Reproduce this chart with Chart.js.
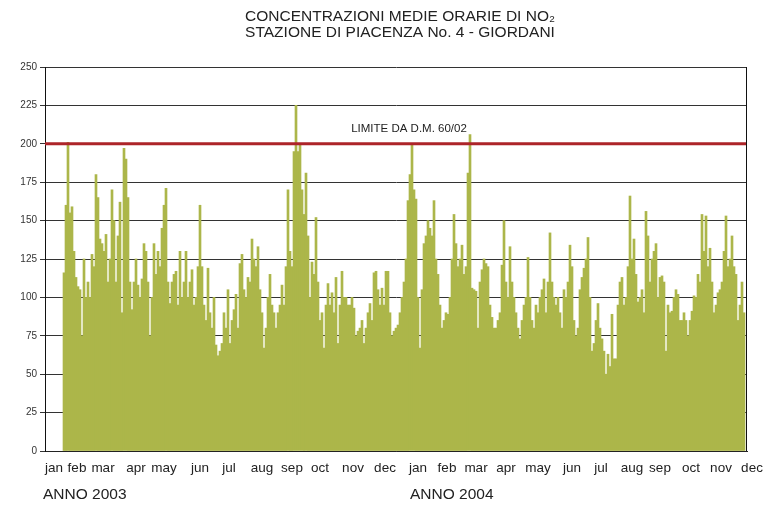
<!DOCTYPE html>
<html>
<head>
<meta charset="utf-8">
<script src="https://cdn.jsdelivr.net/npm/chart.js@4.4.1/dist/chart.umd.min.js"></script>
<style>
  html, body { margin: 0; padding: 0; background: #fff; }
  #wrap { width: 780px; height: 509px; position: relative; }
</style>
</head>
<body>
<div id="wrap"><canvas id="no2Chart"></canvas></div>
<script>
// hourly NO2 peaks (µg/m3), one bar ~ two days
const values2003 = [
  116, 160, 201, 155, 159, 130, 113, 107, 105, 75,
  125, 100, 110, 100, 128, 120, 180, 165, 138, 135,
  130, 141, 110, 125, 170, 150, 110, 140, 162, 90,
  197, 190, 165, 110, 92, 110, 125, 108, 100, 112,
  135, 130, 110, 75, 100, 135, 115, 130, 120, 145,
  160, 171, 110, 96, 110, 115, 117, 95, 130, 100,
  110, 130, 100, 110, 118, 95, 100, 120, 160, 120,
  95, 85, 119, 90, 80, 100, 69, 62, 65, 70,
  90, 80, 105, 70, 85, 92, 102, 80, 122, 128,
  105, 100, 113, 110, 138, 125, 120, 133, 105, 90,
  67, 80, 100, 115, 95, 90, 80, 90, 95, 108,
  95, 120, 170, 130, 120, 195, 225, 195, 200, 170,
  154, 181, 140, 100, 123, 115, 152, 110, 85, 90,
  67, 95, 109, 95, 103, 90, 113, 70, 95, 117,
  100, 100, 95, 95, 100, 93, 75, 78, 80, 85,
  70, 80, 90, 96, 85, 116, 117, 105, 95, 106,
  95, 117, 117, 90, 75, 78, 80, 82, 90, 100,
  110
];
const values2004 = [
  125, 163, 180, 200, 170, 164, 100, 67, 105, 135,
  140, 150, 145, 140, 163, 125, 115, 95, 80, 85,
  90, 89, 100, 125, 154, 135, 120, 125, 134, 115,
  120, 181, 206, 106, 105, 104, 80, 110, 118, 125,
  122, 120, 95, 87, 80, 80, 85, 90, 121, 150,
  110, 100, 133, 110, 100, 90, 80, 73, 85, 95,
  100, 126, 100, 85, 80, 95, 90, 100, 105, 112,
  90, 110, 142, 110, 100, 95, 100, 90, 80, 105,
  100, 110, 134, 120, 85, 75, 80, 105, 113, 119,
  125, 139, 100, 65, 70, 85, 96, 80, 73, 65,
  50, 63, 55, 89, 60, 60, 95, 110, 113, 95,
  100, 120, 166, 125, 138, 115, 97, 100, 105, 90,
  156, 140, 110, 125, 130, 135, 100, 113, 114, 110,
  65, 95, 90, 91, 100, 105, 102, 85, 85, 90,
  85, 75, 85, 91, 101, 100, 115, 110, 154, 130,
  153, 120, 132, 110, 90, 95, 103, 105, 110, 130,
  153, 120, 125, 140, 120, 115, 85, 95, 110, 90
];

const monthLabels = ['jan', 'feb', 'mar', 'apr', 'may', 'jun', 'jul', 'aug', 'sep', 'oct', 'nov', 'dec',
  'jan', 'feb', 'mar', 'apr', 'may', 'jun', 'jul', 'aug', 'sep', 'oct', 'nov', 'dec'];
// where each month name sits along the bar index axis
const monthTickPos = [-5, 6.5, 19.5, 36, 50, 68, 82.5, 99, 114, 128, 144.5, 160.5,
  177, 191.5, 206, 221, 237, 254, 268.5, 284, 298, 313.5, 328.5, 344];
const yearLabels = ['ANNO 2003', 'ANNO 2004'];
const yearLabelPos = [-10.5, 173];
const limitValue = 200;
const limitLabel = 'LIMITE DA D.M. 60/02';
const titleLines = ['CONCENTRAZIONI MEDIE ORARIE DI NO\u2082', 'STAZIONE DI PIACENZA No. 4 - GIORDANI'];

const allValues = values2003.concat(values2004);
const barPoints = allValues.map((v, i) => ({ x: i, y: v }));
const xMin = -9.5;
const xMax = allValues.length + 0.5;

const FONT = "'Liberation Sans', Arial, sans-serif";

// title, limit caption, year captions, right frame
const extras = {
  id: 'extras',
  afterDraw(chart) {
    const { ctx, chartArea, scales } = chart;
    const x = scales.x, y = scales.y;
    ctx.save();
    ctx.fillStyle = '#222';
    ctx.textAlign = 'center';
    ctx.textBaseline = 'middle';
    ctx.font = '15.5px ' + FONT;
    ctx.fillText(titleLines[0], 400, 17);
    ctx.fillText(titleLines[1], 400, 33);

    ctx.font = '11.5px ' + FONT;
    ctx.fillText(limitLabel, x.getPixelForValue(172.5), y.getPixelForValue(limitValue) - 15);

    ctx.textAlign = 'left';
    ctx.font = '15.5px ' + FONT;
    yearLabels.forEach((t, i) => {
      ctx.fillText(t, x.getPixelForValue(yearLabelPos[i]), 495);
    });

    ctx.strokeStyle = '#111';
    ctx.lineWidth = 1;
    ctx.beginPath();
    ctx.moveTo(chartArea.right - 0.5, chartArea.top);
    ctx.lineTo(chartArea.right - 0.5, chartArea.bottom);
    ctx.stroke();
    ctx.restore();
  }
};

new Chart(document.getElementById('no2Chart'), {
  type: 'bar',
  data: {
    datasets: [
      {
        type: 'line',
        data: [{ x: xMin, y: limitValue }, { x: xMax, y: limitValue }],
        borderColor: '#ad2429',
        borderWidth: 3,
        pointRadius: 0,
        order: 0
      },
      {
        data: barPoints,
        backgroundColor: '#acb64a',
        borderWidth: 0,
        barPercentage: 1,
        categoryPercentage: 1,
        order: 1
      }
    ]
  },
  options: {
    responsive: true,
    maintainAspectRatio: false,
    animation: false,
    layout: { padding: { top: 67, right: 33, bottom: 0, left: 0 } },
    plugins: {
      legend: { display: false },
      tooltip: { enabled: false },
      title: { display: false }
    },
    scales: {
      x: {
        type: 'linear',
        offset: false,
        min: xMin,
        max: xMax,
        afterBuildTicks: axis => {
          axis.ticks = monthTickPos.map(v => ({ value: v }));
        },
        afterFit: axis => { axis.height = 58; },
        ticks: {
          autoSkip: false,
          maxRotation: 0,
          padding: 1,
          color: '#222',
          font: { family: FONT, size: 13.5 },
          callback: (val, idx) => monthLabels[idx]
        },
        grid: { display: false },
        border: { display: true, color: '#222', width: 1 }
      },
      y: {
        min: 0,
        max: 250,
        afterFit: axis => { axis.width = 45; },
        ticks: {
          stepSize: 25,
          padding: 3,
          color: '#333',
          font: { family: FONT, size: 10 }
        },
        grid: { color: '#333', lineWidth: 1, tickLength: 5 },
        border: { display: true, color: '#111', width: 1 }
      }
    }
  },
  plugins: [extras]
});
</script>
</body>
</html>
